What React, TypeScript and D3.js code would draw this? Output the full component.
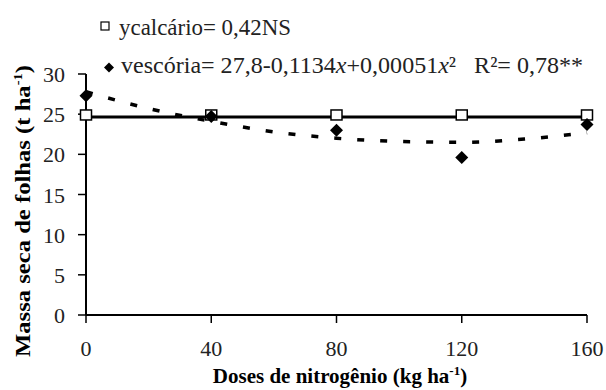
import React from "react";
import * as d3 from "d3";

const doses = [0, 40, 80, 120, 160];
const calcario = [24.9, 24.9, 24.9, 24.9, 24.9];
const escoria = [27.3, 24.7, 23.0, 19.6, 23.7];
const calcarioFit = 24.65;
const curveX = [0, 20, 40, 60, 80, 100, 120, 140, 160];
const curveY = [27.8, 25.7, 24.1, 22.8, 22.0, 21.6, 21.5, 21.9, 22.7];
const xTicks = [0, 40, 80, 120, 160];
const yTicks = [0, 5, 10, 15, 20, 25, 30];

const W = 606, H = 390;
const FF = "'Liberation Serif', Tinos, 'Times New Roman', FreeSerif, serif";
const CSS = `svg.chart text, svg.chart tspan { font-family: ${FF} !important; }`;

export default function App() {
  const x = d3.scaleLinear().domain([0, 160]).range([86, 587]);
  const y = d3.scaleLinear().domain([0, 30]).range([315, 74]);
  const curve = d3.line<number>().x((_, i) => x(curveX[i])).y((d) => y(d)).curve(d3.curveMonotoneX)(curveY) || "";
  const diamond = (cx: number, cy: number, r: number) => `M${cx},${cy - r}L${cx + r},${cy}L${cx},${cy + r}L${cx - r},${cy}Z`;
  return (
    <svg className="chart" width={W} height={H} fontFamily={FF} style={{ position: "absolute", left: 0, top: 0, background: "#fff" }}>
      <style>{CSS}</style>
      <rect width={W} height={H} fill="#fff" />
      <path d={curve} fill="none" stroke="#000" strokeWidth={3.5} strokeDasharray="7 16" />
      <line x1={x(0)} x2={x(160)} y1={y(calcarioFit)} y2={y(calcarioFit)} stroke="#000" strokeWidth={3} />
      <line x1={x(0)} x2={x(0)} y1={y(0)} y2={y(30)} stroke="#000" strokeWidth={2} />
      <line x1={x(0)} x2={x(160)} y1={y(0)} y2={y(0)} stroke="#000" strokeWidth={2} />
      {yTicks.map((t) => (
        <g key={"y" + t}>
          <line x1={x(0) - 8} x2={x(0)} y1={y(t)} y2={y(t)} stroke="#000" strokeWidth={1.5} />
          <text x={x(0) - 21} y={y(t) + 8} textAnchor="end" fontSize={22} fill="#222" fontFamily={FF}>{t}</text>
        </g>
      ))}
      {xTicks.map((t) => (
        <g key={"x" + t}>
          <line x1={x(t)} x2={x(t)} y1={y(0)} y2={y(0) + 8} stroke="#000" strokeWidth={1.5} />
          <text x={x(t)} y={356} textAnchor="middle" fontSize={22} fill="#222" fontFamily={FF}>{t}</text>
        </g>
      ))}
      {doses.map((d, i) => (
        <rect key={"c" + i} x={x(d) - 5.5} y={y(calcario[i]) - 5} width={11} height={10} fill="#fff" stroke="#000" strokeWidth={1.5} />
      ))}
      {doses.map((d, i) => (
        <path key={"e" + i} d={diamond(x(d), y(escoria[i]), 6.5)} fill="#000" />
      ))}
      <rect x={101} y={22} width={8} height={8} fill="#fff" stroke="#000" strokeWidth={1.2} />
      <text x={119} y={35} fontSize={23} fill="#222" fontFamily={FF} textLength={172} lengthAdjust="spacingAndGlyphs">ycalcário= 0,42NS</text>
      <path d={diamond(109, 67.5, 5)} fill="#000" />
      <text x={121} y={73} fontSize={23} fill="#222" fontFamily={FF} textLength={462} lengthAdjust="spacingAndGlyphs">
        vescória= 27,8-0,1134<tspan fontStyle="italic">x</tspan>+0,00051<tspan fontStyle="italic">x</tspan>²{"\u00a0\u00a0\u00a0"}R²= 0,78**
      </text>
      <text x={0} y={0} transform={`translate(30,211) rotate(-90)`} textAnchor="middle" fontSize={22} fontWeight="bold" fill="#000" fontFamily={FF} textLength={292} lengthAdjust="spacingAndGlyphs">
        Massa seca de folhas (t ha<tspan dy={-8} fontSize={13}>-1</tspan><tspan dy={8}>)</tspan>
      </text>
      <text x={340} y={383} textAnchor="middle" fontSize={21} fontWeight="bold" fill="#000" fontFamily={FF}>
        Doses de nitrogênio (kg ha<tspan dy={-8} fontSize={13}>-1</tspan><tspan dy={8}>)</tspan>
      </text>
    </svg>
  );
}
